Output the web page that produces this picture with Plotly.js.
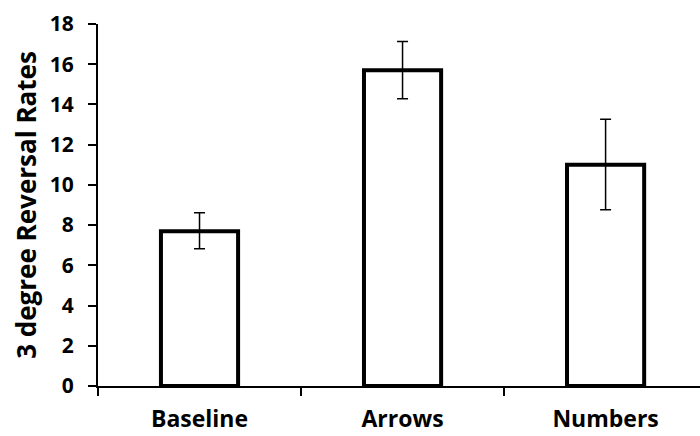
<!DOCTYPE html>
<html><head><meta charset="utf-8">
<script src="https://cdn.plot.ly/plotly-3.0.1.min.js"></script>
<style>html,body{margin:0;padding:0;background:#fff}#chart{width:700px;height:436px}</style>
</head><body><div id="chart"></div>
<script>
const categories = ["Baseline", "Arrows", "Numbers"];
const rates = [7.7, 15.7, 11.0];
const errPlus = [0.92, 1.43, 2.27];
const errMinus = [0.87, 1.42, 2.24];
const yTicks = [0, 2, 4, 6, 8, 10, 12, 14, 16, 18];

const font = "'Open Sans', sans-serif";
Plotly.newPlot("chart", [{
  type: "bar",
  x: categories,
  y: rates,
  marker: {color: "#ffffff", line: {color: "#000000", width: 4}},
  error_y: {type: "data", symmetric: false, array: errPlus, arrayminus: errMinus,
            color: "#000000", thickness: 1.5, width: 5.5},
  hoverinfo: "none"
}], {
  width: 700, height: 436,
  margin: {l: 98, r: 0, t: 24, b: 50, pad: 0},
  paper_bgcolor: "#ffffff", plot_bgcolor: "#ffffff",
  showlegend: false,
  bargap: 0.62,
  xaxis: {
    type: "category", range: [-0.5, 2.465],
    showline: true, linecolor: "#000", linewidth: 2,
    ticks: "outside", tickson: "boundaries", ticklen: 8, tickwidth: 2, tickcolor: "#000",
    showgrid: false, zeroline: false, ticklabelstandoff: 11,
    tickfont: {family: font, size: 23, color: "#000", weight: "bold"}
  },
  yaxis: {
    range: [0, 18], tickvals: yTicks, ticktext: yTicks.map(String),
    showline: true, linecolor: "#000", linewidth: 2,
    ticks: "outside", ticklen: 8, tickwidth: 2, tickcolor: "#000",
    showgrid: false, zeroline: false, ticklabelstandoff: 10,
    tickfont: {family: font, size: 21, color: "#000", weight: "bold"},
    title: {text: "3 degree Reversal Rates", standoff: 6,
            font: {family: font, size: 26, color: "#000", weight: "bold"}}
  }
}, {staticPlot: true});
</script></body></html>
